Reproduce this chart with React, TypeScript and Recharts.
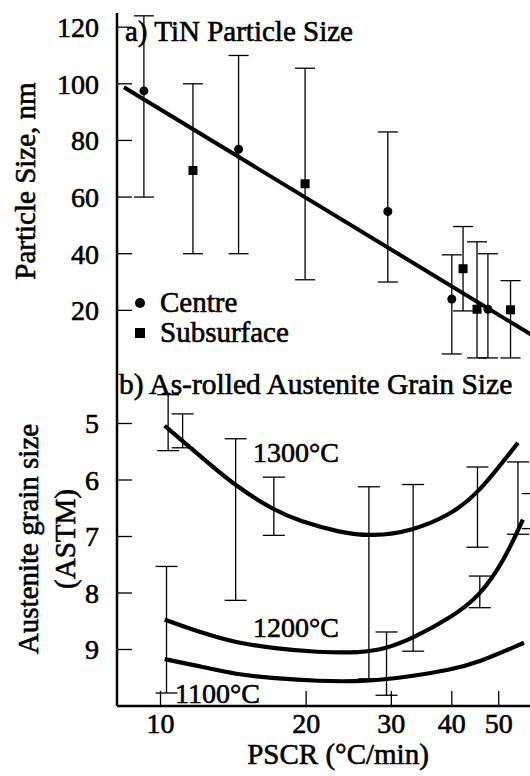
import React from "react";
import {
  ComposedChart,
  Line,
  Scatter,
  ErrorBar,
  XAxis,
  YAxis,
  Legend,
} from "recharts";

const FONT = "'Liberation Serif', Tinos, 'Times New Roman', serif";
const INK = "#000";

// shared PSCR axis (log)
const pscrDomain = [8.13, 60];
const pscrTicks = [10, 20, 30, 40, 50];

// a) TiN particle size, nm
const sizeTicks = [20, 40, 60, 80, 100, 120];

const centreX = [9.24, 14.5, 29.5, 40.0, 47.5];
const centreY = [97.5, 76.9, 54.9, 24.0, 20.4];
const centreLo = [60, 40, 30, 4.6, 3.2];
const centreHi = [124, 110, 83, 39.6, 40];

const subX = [11.67, 19.9, 42.2, 45.1, 52.9];
const subY = [69.4, 64.7, 34.7, 20.4, 20.2];
const subLo = [40, 30.8, 19.8, 3.2, 3.2];
const subHi = [100, 105.5, 49.6, 44.2, 30.5];

const fitX = [8.4, 60];
const fitY = [98.8, 10.2];

// b) as-rolled austenite grain size, ASTM
const gsTicks = [5, 6, 7, 8, 9];

const barX = [10.37, 11.11, 10.29, 14.3, 17.15, 26.96, 29.32, 33.28, 45.2, 45.7, 54.8, 58.8];
const barLo = [4.49, 4.83, 7.53, 5.27, 5.95, 6.12, 8.69, 6.08, 5.77, 7.7, 5.68, 6.24];
const barHi = [5.48, 5.43, 9.77, 8.13, 6.98, 9.52, 9.81, 9.03, 7.19, 8.26, 6.96, 6.86];

const t1300X = [10.2, 12.1, 14.3, 17.2, 19.4, 23.5, 27.4, 33.2, 39.6, 45.2, 54.8];
const t1300Y = [5.04, 5.58, 6.11, 6.54, 6.73, 6.93, 7.0, 6.9, 6.62, 6.26, 5.34];

const t1200X = [10.2, 12.1, 14.3, 17.2, 21.1, 25.8, 29.4, 33.2, 39.6, 45.7, 51.5, 56.1];
const t1200Y = [8.47, 8.7, 8.88, 8.98, 9.05, 9.06, 8.98, 8.8, 8.45, 8.06, 7.4, 6.7];

const t1100X = [10.2, 12.1, 14.3, 17.2, 21.1, 26.7, 33.2, 39.6, 45.2, 56.4];
const t1100Y = [9.17, 9.3, 9.44, 9.51, 9.56, 9.57, 9.47, 9.36, 9.24, 8.88];

const zip = (xs: number[], ys: number[]) => xs.map((x, i) => ({ x, y: ys[i] }));
const withErr = (xs: number[], ys: number[], lo: number[], hi: number[]) =>
  xs.map((x, i) => ({ x, y: ys[i], err: [ys[i] - lo[i], hi[i] - ys[i]] }));
// bars drawn from their low end upwards, no marker
const rangeBars = (xs: number[], lo: number[], hi: number[]) =>
  xs.map((x, i) => ({ x, y: lo[i], err: [0, hi[i] - lo[i]] }));

const centreData = withErr(centreX, centreY, centreLo, centreHi);
const subData = withErr(subX, subY, subLo, subHi);
const fitData = zip(fitX, fitY);
const barData = rangeBars(barX, barLo, barHi);
const c1300 = zip(t1300X, t1300Y);
const c1200 = zip(t1200X, t1200Y);
const c1100 = zip(t1100X, t1100Y);

const frame = { stroke: INK, strokeWidth: 2.5 };
const tickLn = { stroke: INK, strokeWidth: 1.3 };
// scanned-print look: a thin outline thickens the serif glyphs
const tickTxt = { fill: INK, stroke: INK, strokeWidth: 0.6, fontFamily: FONT, fontSize: 28 };
const txt = { fill: INK, stroke: INK, strokeWidth: 0.6, fontFamily: FONT, fontSize: 29 };

const Dot = (p: any) => <circle cx={p.cx} cy={p.cy} r={4.5} fill={INK} />;
const Square = (p: any) => (
  <rect x={p.cx - 4.5} y={p.cy - 4.5} width={9} height={9} fill={INK} />
);
const NoMark = () => <g />;

const KeyBox = () => (
  <svg width={220} height={70}>
    <circle cx={12} cy={21} r={5} fill={INK} />
    <text x={32} y={30} {...txt}>Centre</text>
    <rect x={7} y={46} width={10} height={10} fill={INK} />
    <text x={32} y={60} {...txt}>Subsurface</text>
  </svg>
);

function ParticlePanel() {
  return (
    <ComposedChart
      width={545}
      height={369}
      margin={{ top: 13, right: 8, bottom: 2, left: 0 }}
      style={{ position: "absolute", left: 0, top: 0 }}
    >
      <XAxis
        dataKey="x"
        type="number"
        scale="log"
        domain={pscrDomain}
        allowDataOverflow
        ticks={pscrTicks}
        tick={false}
        tickSize={-16}
        height={0}
        axisLine={frame}
        tickLine={tickLn}
      />
      <XAxis
        xAxisId="top"
        orientation="top"
        dataKey="x"
        type="number"
        scale="log"
        domain={pscrDomain}
        allowDataOverflow
        tick={false}
        tickLine={false}
        height={0}
        axisLine={frame}
      />
      <YAxis
        dataKey="y"
        type="number"
        domain={[0, 125]}
        allowDataOverflow
        ticks={sizeTicks}
        width={117}
        tickSize={-15}
        tickMargin={33}
        tick={tickTxt}
        axisLine={frame}
        tickLine={tickLn}
      />
      <Line
        data={fitData}
        dataKey="y"
        stroke={INK}
        strokeWidth={4}
        dot={false}
        type="linear"
        isAnimationActive={false}
        legendType="none"
      />
      <Scatter name="Centre" data={centreData} shape={Dot} isAnimationActive={false}>
        <ErrorBar dataKey="err" direction="y" width={10} stroke={INK} strokeWidth={1.3} />
      </Scatter>
      <Scatter name="Subsurface" data={subData} shape={Square} isAnimationActive={false}>
        <ErrorBar dataKey="err" direction="y" width={10} stroke={INK} strokeWidth={1.3} />
      </Scatter>
      <Legend
        layout="vertical"
        align="center"
        verticalAlign="middle"
        wrapperStyle={{ left: 128, top: 282, width: 220, height: 70 }}
        content={KeyBox}
      />
      <text transform="translate(35,181) rotate(-90)" textAnchor="middle" {...txt}>
        Particle Size, nm
      </text>
      <text x={125} y={41} {...txt}>a) TiN Particle Size</text>
    </ComposedChart>
  );
}

function GrainPanel() {
  return (
    <ComposedChart
      width={545}
      height={776}
      margin={{ top: 367, right: 8, bottom: 0, left: 0 }}
      style={{ position: "absolute", left: 0, top: 0 }}
    >
      <XAxis
        dataKey="x"
        type="number"
        scale="log"
        domain={pscrDomain}
        allowDataOverflow
        ticks={pscrTicks}
        height={70}
        tickSize={-15}
        tickMargin={22}
        tick={tickTxt}
        axisLine={frame}
        tickLine={tickLn}
      />
      <YAxis
        dataKey="y"
        type="number"
        domain={[4, 10]}
        reversed
        allowDataOverflow
        ticks={gsTicks}
        width={117}
        tickSize={-15}
        tickMargin={33}
        tick={tickTxt}
        axisLine={frame}
        tickLine={tickLn}
      />
      <Scatter data={barData} shape={NoMark} isAnimationActive={false}>
        <ErrorBar dataKey="err" direction="y" width={11} stroke={INK} strokeWidth={1.3} />
      </Scatter>
      <Line data={c1300} dataKey="y" type="basis" stroke={INK} strokeWidth={4.2} dot={false} isAnimationActive={false} />
      <Line data={c1200} dataKey="y" type="basis" stroke={INK} strokeWidth={4.2} dot={false} isAnimationActive={false} />
      <Line data={c1100} dataKey="y" type="basis" stroke={INK} strokeWidth={4.2} dot={false} isAnimationActive={false} />
      <text x={253} y={462} {...tickTxt}>1300°C</text>
      <text x={253} y={637} {...tickTxt}>1200°C</text>
      <text x={175} y={703} {...tickTxt}>1100°C</text>
      <text x={119} y={394} {...txt} fontSize={29.5}>b) As-rolled Austenite Grain Size</text>
      <text transform="translate(38,539) rotate(-90)" textAnchor="middle" {...txt}>
        Austenite grain size
      </text>
      <text transform="translate(75,539) rotate(-90)" textAnchor="middle" {...txt}>
        (ASTM)
      </text>
      <text x={338} y={764} textAnchor="middle" {...txt}>PSCR (°C/min)</text>
    </ComposedChart>
  );
}

export default function App() {
  return (
    <div
      style={{
        position: "fixed",
        left: 0,
        top: 0,
        width: 530,
        height: 776,
        overflow: "hidden",
        background: "#fff",
      }}
    >
      <GrainPanel />
      <ParticlePanel />
    </div>
  );
}
